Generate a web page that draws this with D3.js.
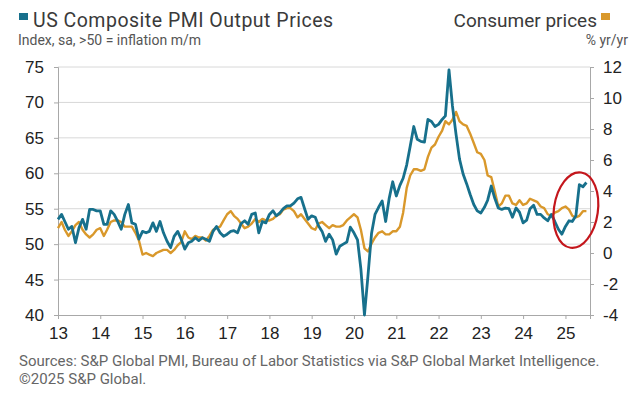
<!DOCTYPE html>
<html>
<head>
<meta charset="utf-8">
<script src="https://cdn.jsdelivr.net/npm/d3@7"></script>
<style>
    body { margin: 0; background: #fff; }
    svg { display: block; font-family: "Liberation Sans", Arial, sans-serif; }
</style>
</head>
<body>
<script>
// monthly, Jan 2013 - Jul 2025
const months = d3.timeMonth.range(new Date(2013, 0, 1), new Date(2025, 7, 1));

// US Composite PMI Output Prices (index, sa)
const pmiPrices = [
    53.5, 54.2, 53.2, 52.1, 52.5, 50.2, 52.3, 53.5, 52.1, 54.9, 54.9, 54.7,
    54.7, 52.8, 52.8, 54.7, 54.2, 53.2, 52.1, 54.2, 55.6, 53.0, 52.8, 50.7,
    51.8, 51.6, 51.8, 53.0, 51.8, 53.2, 51.6, 50.4, 49.5, 51.1, 51.8, 50.7,
    49.3, 50.2, 50.4, 50.9, 50.5, 50.9, 50.7, 50.4, 51.8, 52.5, 51.6, 51.1,
    51.4, 51.8, 51.9, 51.6, 52.9, 53.3, 52.8, 54.2, 54.4, 51.6, 53.2, 53.0,
    54.2, 54.7, 54.0, 54.4, 55.0, 55.4, 55.4, 55.8, 56.4, 56.6, 55.0, 53.5,
    54.0, 53.8, 52.6, 51.8, 50.4, 51.4, 50.6, 48.6, 49.7, 50.0, 50.3, 52.4,
    51.6, 50.6, 46.5, 40.0, 45.5, 51.5, 54.2, 55.2, 56.1, 53.2, 56.5, 58.8,
    56.8, 58.3, 59.3, 61.2, 63.8, 66.6, 64.8, 64.5, 64.4, 67.6, 67.3, 66.6,
    66.9, 67.6, 68.1, 74.6, 69.5, 65.5, 62.0, 59.9, 58.5, 57.0, 55.6, 54.7,
    54.4, 55.2, 56.2, 58.2, 56.5, 55.1, 54.9, 55.1, 55.0, 53.8, 55.1, 54.5,
    53.0, 53.4, 55.0, 55.5, 54.2, 54.2, 53.7, 53.3, 54.2, 53.2, 52.1, 51.4,
    52.5, 53.3, 53.2, 54.0, 58.4, 58.1, 58.7
];

// Consumer prices, % yr/yr
const cpi = [
    1.6, 2.0, 1.5, 1.1, 1.4, 1.8, 2.0, 1.5, 1.2, 1.0, 1.2, 1.5,
    1.6, 1.1, 1.5, 2.0, 2.1, 2.1, 2.0, 1.7, 1.7, 1.7, 1.3, 0.8,
    -0.1, 0.0, -0.1, -0.2, 0.0, 0.1, 0.2, 0.2, 0.0, 0.2, 0.5, 0.7,
    1.4, 1.0, 0.9, 1.1, 1.0, 1.0, 0.8, 1.1, 1.5, 1.6, 1.7, 2.1,
    2.5, 2.7, 2.4, 2.2, 1.9, 1.6, 1.7, 1.9, 2.2, 2.0, 2.2, 2.1,
    2.1, 2.2, 2.4, 2.5, 2.8, 2.9, 2.9, 2.7, 2.3, 2.5, 2.2, 1.9,
    1.6, 1.5, 1.9, 2.0, 1.8, 1.6, 1.8, 1.7, 1.7, 1.8, 2.1, 2.3,
    2.5, 2.3, 1.5, 0.3, 0.1, 0.6, 1.0, 1.3, 1.4, 1.2, 1.2, 1.4,
    1.4, 1.7, 2.6, 4.2, 5.0, 5.4, 5.4, 5.3, 5.4, 6.2, 6.8, 7.0,
    7.5, 7.9, 8.5, 8.3, 8.6, 9.1, 8.5, 8.3, 8.2, 7.7, 7.1, 6.5,
    6.4, 6.0, 5.0, 4.9, 4.0, 3.0, 3.2, 3.7, 3.7, 3.2, 3.1, 3.4,
    3.1, 3.2, 3.5, 3.4, 3.3, 3.0, 2.9, 2.5, 2.4, 2.6, 2.7, 2.9,
    3.0, 2.8, 2.4, 2.3, 2.4, 2.7, 2.7
];

const leftTicks = [40, 45, 50, 55, 60, 65, 70, 75];
const rightTicks = [-4, -2, 0, 2, 4, 6, 8, 10, 12];
const yearTicks = d3.range(2013, 2026).map(y => new Date(y, 0, 1));

const width = 638,
    height = 398;
const teal = "#17708c",
    orange = "#d9982b";

const svg = d3.select("body").append("svg")
    .attr("width", width)
    .attr("height", height);

const x = d3.scaleTime()
    .domain([new Date(2013, 0, 1), new Date(2025, 7, 1)])
    .range([58, 590]);

const yLeft = d3.scaleLinear().domain([40, 75]).range([315, 67]);
const yRight = d3.scaleLinear().domain([-4, 12]).range([315, 67]);

// gridlines
svg.append("g")
    .selectAll("line")
    .data(leftTicks.slice(1))
    .enter()
    .append("line")
    .attr("x1", 58).attr("x2", 590)
    .attr("y1", d => yLeft(d)).attr("y2", d => yLeft(d))
    .attr("stroke", "#d8d8d8")
    .attr("stroke-width", 1);

// axes
const leftAxis = d3.axisLeft(yLeft).tickValues(leftTicks).tickSize(4).tickPadding(10);
const rightAxis = d3.axisRight(yRight).tickValues(rightTicks).tickSize(4).tickPadding(9)
    .tickFormat(d => d < 0 ? "-" + Math.abs(d) : d);
const bottomAxis = d3.axisBottom(x).tickValues(yearTicks).tickSize(4).tickPadding(8)
    .tickFormat(d3.timeFormat("%y"));

function styleAxis(g) {
    g.select(".domain").attr("stroke", "#a8a8a8");
    g.selectAll(".tick line").attr("stroke", "#a8a8a8");
    g.selectAll(".tick text")
        .attr("fill", "#222")
        .style("font-size", "17px")
        .style("font-family", "Liberation Sans, Arial, sans-serif");
}

svg.append("g").attr("transform", "translate(58,0)").call(leftAxis).call(styleAxis);
svg.append("g").attr("transform", "translate(590,0)").call(rightAxis).call(styleAxis);
svg.append("g").attr("transform", "translate(0,315)").call(bottomAxis).call(styleAxis);

// lines
const cpiLine = d3.line()
    .x((d, i) => x(months[i]))
    .y(d => yRight(d));

const pmiLine = d3.line()
    .x((d, i) => x(months[i]))
    .y(d => yLeft(d));

svg.append("path")
    .datum(cpi)
    .attr("fill", "none")
    .attr("stroke", orange)
    .attr("stroke-width", 2.4)
    .attr("stroke-linejoin", "round")
    .attr("d", cpiLine);

svg.append("path")
    .datum(pmiPrices)
    .attr("fill", "none")
    .attr("stroke", teal)
    .attr("stroke-width", 2.8)
    .attr("stroke-linejoin", "round")
    .attr("d", pmiLine);

// red circle round the latest months
svg.append("ellipse")
    .attr("transform", "translate(" + x(new Date(2025, 3, 1)) + "," + yLeft(54.8) + ") rotate(8)")
    .attr("rx", 22)
    .attr("ry", 38)
    .attr("fill", "none")
    .attr("stroke", "#c4161c")
    .attr("stroke-width", 2.2);

// titles and legend
svg.append("rect").attr("x", 19).attr("y", 13).attr("width", 9).attr("height", 7).attr("fill", teal);
svg.append("text")
    .attr("x", 33).attr("y", 27)
    .attr("fill", "#3a3a3a")
    .style("font-family", "Roboto, sans-serif")
    .style("font-size", "19.5px")
    .style("letter-spacing", "0.5px")
    .text("US Composite PMI Output Prices");
svg.append("text")
    .attr("x", 18).attr("y", 45)
    .attr("fill", "#555")
    .style("font-family", "Roboto, sans-serif")
    .style("font-size", "14px")
    .text("Index, sa, >50 = inflation m/m");

svg.append("rect").attr("x", 601).attr("y", 13).attr("width", 9).attr("height", 7).attr("fill", orange);
svg.append("text")
    .attr("x", 597).attr("y", 27)
    .attr("text-anchor", "end")
    .attr("fill", "#3a3a3a")
    .style("font-family", "Roboto, sans-serif")
    .style("font-size", "19px")
    .text("Consumer prices");
svg.append("text")
    .attr("x", 628).attr("y", 45)
    .attr("text-anchor", "end")
    .attr("fill", "#555")
    .style("font-family", "Roboto, sans-serif")
    .style("font-size", "14px")
    .text("% yr/yr");

// sources
svg.append("text")
    .attr("x", 19).attr("y", 366)
    .attr("fill", "#666")
    .style("font-family", "Roboto, sans-serif")
    .style("font-size", "15px")
    .text("Sources: S&P Global PMI, Bureau of Labor Statistics via S&P Global Market Intelligence.");
svg.append("text")
    .attr("x", 19).attr("y", 384)
    .attr("fill", "#666")
    .style("font-family", "Roboto, sans-serif")
    .style("font-size", "15px")
    .text("©2025 S&P Global.");
</script>
</body>
</html>
